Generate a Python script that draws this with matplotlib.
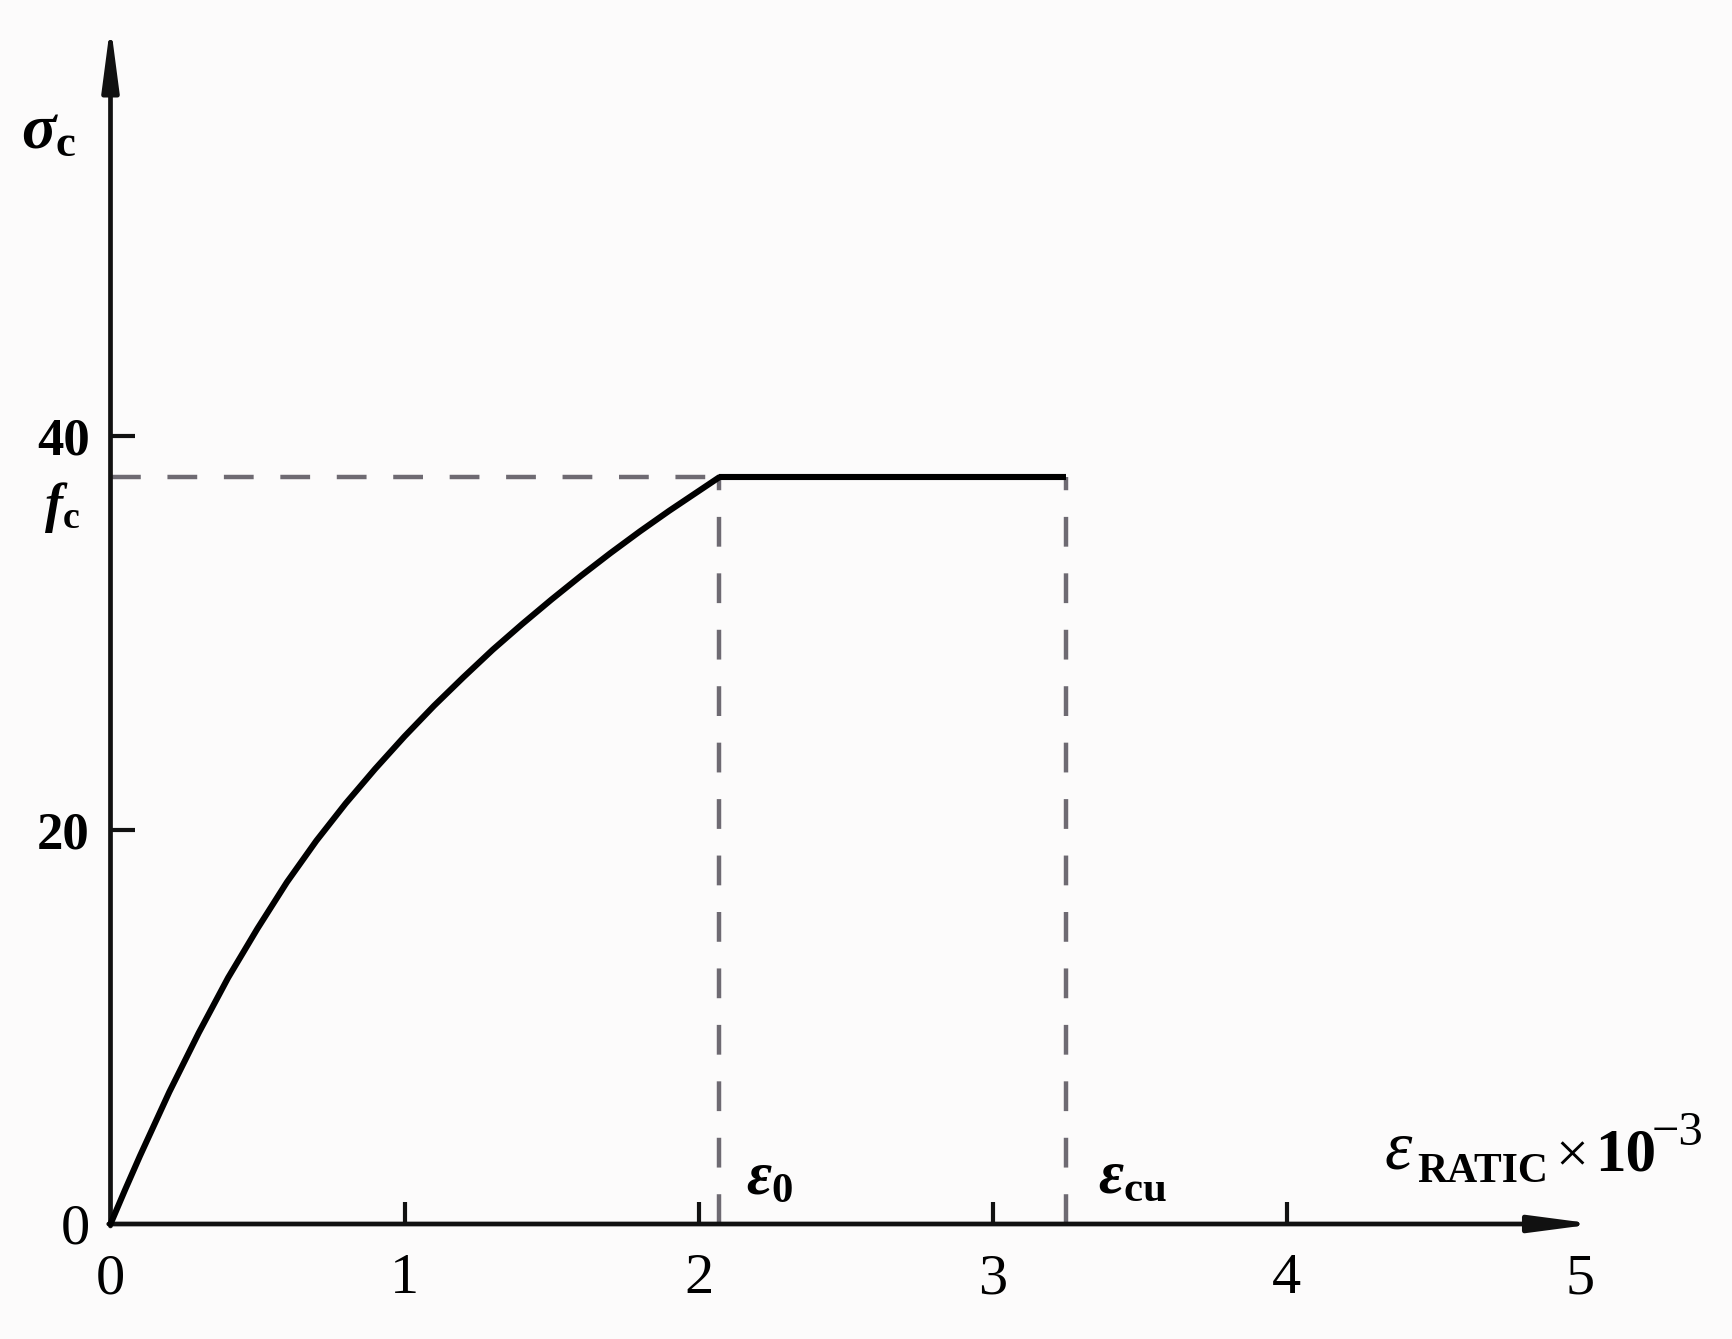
import matplotlib.pyplot as plt

# stress-strain curve (strain in 1e-3, stress in MPa)
strain = [0, 0.05, 0.1, 0.2, 0.3, 0.4, 0.5, 0.6, 0.7, 0.8, 0.9, 1.0, 1.1, 1.2,
          1.3, 1.4, 1.5, 1.6, 1.7, 1.8, 1.9, 2.0, 2.07]
stress = [0, 1.75, 3.45, 6.7, 9.7, 12.5, 15.0, 17.35, 19.45, 21.35, 23.1, 24.75, 26.3, 27.75,
          29.15, 30.45, 31.7, 32.9, 34.05, 35.15, 36.2, 37.2, 37.9]
eps0 = 2.07
eps_cu = 3.25
fc = 37.9
x_ticks = [0, 1, 2, 3, 4, 5]
y_ticks = [0, 20, 40]

plt.rcParams['font.family'] = ['Liberation Serif', 'DejaVu Serif']
plt.rcParams['mathtext.fontset'] = 'custom'
plt.rcParams['mathtext.rm'] = 'Liberation Serif'
plt.rcParams['mathtext.it'] = 'Liberation Serif:italic'
plt.rcParams['mathtext.bf'] = 'Liberation Serif:bold'
plt.rcParams['mathtext.bfit'] = 'Liberation Serif:italic:bold'

W, H = 1732, 1339
fig = plt.figure(figsize=(W / 100, H / 100), dpi=100, facecolor='#fcfbfb')
x0, y0 = 110.5, 1224          # origin in pixels
px_x, px_y = 294.0, 19.7      # pixels per unit
xmax, ymax = 5.3, 61.5
ax = fig.add_axes([x0 / W, (H - y0) / H, xmax * px_x / W, ymax * px_y / H])
ax.set_facecolor('none')
ax.set_xlim(0, xmax)
ax.set_ylim(0, ymax)
for s in ax.spines.values():
    s.set_visible(False)

# axes with arrow heads
arrow = dict(arrowstyle='-|>,head_length=3.8,head_width=0.5', lw=3.4,
             color='#111111', shrinkA=0, shrinkB=0)
ax.annotate('', xy=(0, 60.9), xytext=(0, -0.1), arrowprops=arrow, annotation_clip=False)
ax.annotate('', xy=(5.05, 0), xytext=(-0.006, 0), arrowprops=arrow, annotation_clip=False)

# guide lines
dash_col = '#6e6a72'
ax.plot([0, eps0], [fc, fc], color=dash_col, lw=3.2, dashes=(6.7, 6.0), clip_on=False)
ax.plot([eps0, eps0], [0, fc], color=dash_col, lw=3.2, dashes=(6.7, 6.0), clip_on=False)
ax.plot([eps_cu, eps_cu], [0, fc], color=dash_col, lw=3.2, dashes=(6.7, 6.0), clip_on=False)

# curve and plateau
ax.plot(strain, stress, color='black', lw=4.4, solid_capstyle='round',
        solid_joinstyle='round', clip_on=False, zorder=5)
ax.plot([eps0, eps_cu], [fc, fc], color='black', lw=4.4, solid_capstyle='butt',
        clip_on=False, zorder=5)

# ticks
ax.set_xticks(x_ticks, labels=[str(v) for v in x_ticks])
ax.set_yticks(y_ticks, labels=[str(v) for v in y_ticks])
ax.tick_params(axis='x', direction='in', length=16, width=3, color='#111111',
               pad=21, labelsize=42)
ax.tick_params(axis='y', direction='in', length=17, width=3, color='#111111',
               pad=15, labelsize=38)
for lab in ax.get_yticklabels():
    lab.set_fontweight('bold')
ylab0 = ax.get_yticklabels()[0]
ylab0.set_fontweight('normal')
ylab0.set_fontsize(42)
ax.xaxis.get_major_ticks()[-1].tick1line.set_visible(False)
ax.xaxis.get_major_ticks()[0].tick1line.set_visible(False)
ax.yaxis.get_major_ticks()[0].tick1line.set_visible(False)

# labels
ax.text(-0.114, 54.6, r'$\mathbfit{\sigma}_{\mathbf{c}}$', fontsize=46,
        ha='right', va='baseline')
ax.text(-0.104, 37.75, r'$\mathbfit{f}_{\mathbf{c}}$', fontsize=39,
        ha='right', va='top')
ax.text(2.16, 1.55, r'$\mathbfit{\varepsilon}_{\mathbf{0}}$', fontsize=44,
        ha='left', va='baseline')
ax.text(3.36, 1.6, r'$\mathbfit{\varepsilon}_{\mathbf{cu}}$', fontsize=44,
        ha='left', va='baseline')
ax.text(4.335, 2.84, '\u03b5', fontsize=50, style='italic', ha='left', va='baseline')
ax.text(4.444, 2.13, 'RATIC', fontsize=30, fontweight='bold', ha='left', va='baseline')
ax.text(4.915, 2.6, '\u00d7', fontsize=42, ha='left', va='baseline')
ax.text(5.05, 2.74, '10', fontsize=44, fontweight='bold', ha='left', va='baseline')
ax.text(5.243, 4.0, '\u22123', fontsize=35, ha='left', va='baseline')

fig.savefig('out.png', dpi=100, facecolor=fig.get_facecolor())
